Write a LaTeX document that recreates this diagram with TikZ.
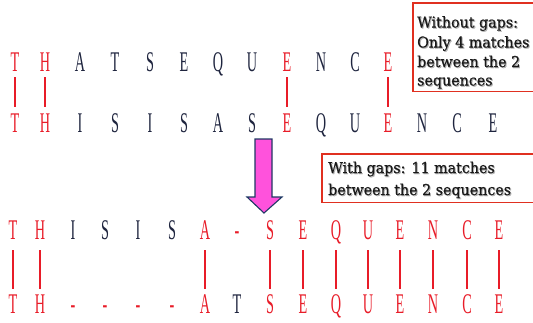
\documentclass[tikz,border=0pt]{standalone}
\usepackage{fontspec}
\setmainfont{Liberation Serif}
\newfontfamily\boxfont[FakeStretch=0.95,FakeBold=0.5]{DejaVu Serif}
\definecolor{mred}{RGB}{232,28,40}
\definecolor{mdark}{RGB}{30,36,62}
\definecolor{mpink}{RGB}{255,82,220}
\definecolor{mnavy}{RGB}{31,56,100}
\definecolor{bred}{RGB}{224,48,32}
\newcommand\seqch[1]{\scalebox{0.5}[1]{#1}}
\newcommand\shd[1]{\makebox[0pt][l]{\raisebox{-1pt}{\hspace{1pt}\textcolor{black!30}{#1}}}#1}
\begin{document}
\begin{tikzpicture}[x=1pt,y=-1pt,
  seq/.style={inner sep=0pt, anchor=base, text height=19pt, text depth=0pt,
    font=\fontsize{28.5}{28.5}\selectfont},
  match/.style={draw=mred, line width=1.8pt},
  boxarea/.style={fill=white, inner sep=0pt, anchor=north west},
  boxline/.style={draw=bred, line width=1.1pt},
  txt/.style={inner sep=0pt, anchor=base west, text=black!90, font=\boxfont\fontsize{15}{17}\selectfont}]
\useasboundingbox (0,0) rectangle (533,322);
\clip (0,0) rectangle (533,322);
% row 1
\foreach \x/\c/\col [count=\i] in {15/T/mred,45/H/mred,80/A/mdark,115/T/mdark,150/S/mdark,184/E/mdark,218/Q/mdark,252/U/mdark,287/E/mred,321/N/mdark,355/C/mdark,388/E/mred}
  \node[seq,text=\col] (a\i) at (\x,71) {\seqch{\c}};
% row 2
\foreach \x/\c/\col [count=\i] in {15/T/mred,45/H/mred,80/I/mdark,115/S/mdark,150/I/mdark,184/S/mdark,218/A/mdark,252/S/mdark,287/E/mred,321/Q/mdark,355/U/mdark,388/E/mred,422/N/mdark,457/C/mdark,493/E/mdark}
  \node[seq,text=\col] (b\i) at (\x,132) {\seqch{\c}};
\foreach \i in {1,2,9,12}
  \draw[match, shorten <=6pt, shorten >=6pt] (a\i.south) -- (b\i.north);
% row 3
\foreach \x/\c/\col [count=\i] in {13/T/mred,40/H/mred,73/I/mdark,105/S/mdark,138/I/mdark,172/S/mdark,205/A/mred,237/-/mred,270/S/mred,303/E/mred,336/Q/mred,368/U/mred,400/E/mred,433/N/mred,467/C/mred,499/E/mred}
  \node[seq,text=\col] (c\i) at (\x,239) {\seqch{\c}};
% row 4
\foreach \x/\c/\col [count=\i] in {13/T/mred,40/H/mred,73/-/mred,105/-/mred,138/-/mred,172/-/mred,205/A/mred,237/T/mdark,270/S/mred,303/E/mred,336/Q/mred,368/U/mred,400/E/mred,433/N/mred,467/C/mred,499/E/mred}
  \node[seq,text=\col] (d\i) at (\x,313) {\seqch{\c}};
\foreach \i in {1,2,7,9,10,11,12,13,14,15,16}
  \draw[match, shorten <=11pt, shorten >=5pt] (c\i.south) -- (d\i.north);
% arrow
\draw[fill=mpink, draw=mnavy, line width=1.1pt, line join=miter]
  (255,139) -- (272,139) -- (272,197) -- (282,197) -- (264,213) -- (247,197) -- (255,197) -- cycle;
% box 1
\node[boxarea, minimum width=140pt, minimum height=88pt] (box1) at (413,3) {};
\draw[boxline] (box1.north east) -- (box1.north west) -- (box1.south west) -- (box1.south east);
\node[txt] (l1) at (417,27.5) {\shd{Without gaps:}};
\node[txt] (l2) at (417,47.5) {\shd{Only 4 matches}};
\node[txt] (l3) at (417,67) {\shd{between the 2}};
\node[txt] (l4) at (417,85.5) {\shd{sequences}};
% box 2
\node[boxarea, minimum width=230pt, minimum height=48pt] (box2) at (322,154) {};
\draw[boxline] (box2.north east) -- (box2.north west) -- (box2.south west) -- (box2.south east);
\node[txt] (m1) at (328,173) {\shd{With gaps: 11 matches}};
\node[txt] (m2) at (328,195) {\shd{between the 2 sequences}};
\end{tikzpicture}
\end{document}
